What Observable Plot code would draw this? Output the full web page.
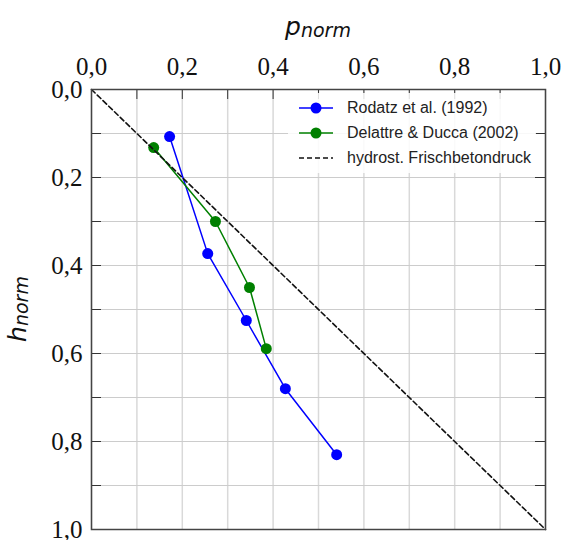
<!DOCTYPE html>
<html><head><meta charset="utf-8">
<script src="https://cdn.jsdelivr.net/npm/d3@7"></script>
<script src="https://cdn.jsdelivr.net/npm/@observablehq/plot@0.6"></script>
<style>
body{margin:0;background:#fff}
#wrap{position:relative;width:564px;height:540px;overflow:hidden}
#legend{position:absolute;left:288px;top:93px;width:248px;height:80px;background:rgba(255,255,255,0.85);font-family:"Liberation Sans",Arial,sans-serif;font-size:16px;color:#222}
.row{position:absolute;left:0;height:20px;display:flex;align-items:center;white-space:nowrap}
.row svg{margin-left:11px;margin-right:14px}
</style>
</head><body><div id="wrap"><div id="legend"></div></div>
<script>
// data
const seriesNames = ["Rodatz et al. (1992)", "Delattre & Ducca (2002)", "hydrost. Frischbetondruck"];
const seriesColors = ["#0000ff", "#008000", "#000000"];
const rodatzP = [0.172, 0.256, 0.341, 0.427, 0.540];
const rodatzH = [0.107, 0.373, 0.525, 0.680, 0.830];
const delattreP = [0.137, 0.273, 0.348, 0.385];
const delattreH = [0.132, 0.300, 0.450, 0.589];
const hydroP = [0, 1];
const hydroH = [0, 1];
const majorTicks = [0, 0.2, 0.4, 0.6, 0.8, 1.0];
const minorTicks = [0, 0.1, 0.2, 0.3, 0.4, 0.5, 0.6, 0.7, 0.8, 0.9, 1.0];

const rodatz = rodatzP.map((p, i) => ({p, h: rodatzH[i]}));
const delattre = delattreP.map((p, i) => ({p, h: delattreH[i]}));
const hydro = hydroP.map((p, i) => ({p, h: hydroH[i]}));

const W = 564, H = 540, mL = 91, mR = 19, mT = 89, mB = 11;
const fw = W - mL - mR, fh = H - mT - mB;
const fmt = d => d.toFixed(1).replace(".", ",");
const serif = "'Liberation Serif', 'Times New Roman', serif";

const chart = Plot.plot({
  width: W, height: H,
  marginLeft: mL, marginRight: mR, marginTop: mT, marginBottom: mB,
  x: {domain: [0, 1]},
  y: {domain: [0, 1], reverse: true},
  style: {background: "white", overflow: "visible"},
  marks: [
    Plot.gridX(minorTicks, {stroke: "#d9d9d9", strokeOpacity: 1, strokeWidth: 1.5}),
    Plot.gridY(minorTicks, {stroke: "#cccccc", strokeOpacity: 1, strokeWidth: 1}),
    Plot.ruleX(minorTicks, {stroke: "#333", strokeWidth: 1, insetBottom: fh - 10}),
    Plot.ruleY(minorTicks, {stroke: "#333", strokeWidth: 1, insetRight: fw - 10}),
    Plot.ruleY(minorTicks, {stroke: "#333", strokeWidth: 1, insetLeft: fw - 10}),
    Plot.line(rodatz, {x: "p", y: "h", stroke: seriesColors[0], strokeWidth: 1.5}),
    Plot.dot(rodatz, {x: "p", y: "h", r: 5.5, fill: seriesColors[0], stroke: "none"}),
    Plot.line(delattre, {x: "p", y: "h", stroke: seriesColors[1], strokeWidth: 1.5}),
    Plot.dot(delattre, {x: "p", y: "h", r: 5.5, fill: seriesColors[1], stroke: "none"}),
    Plot.line(hydro, {x: "p", y: "h", stroke: "#111", strokeWidth: 1.6, strokeDasharray: "5,3"}),
    Plot.frame({stroke: "#444", strokeWidth: 1.5}),
    Plot.axisX(majorTicks, {anchor: "top", tickSize: 0, tickPadding: 15, tickFormat: fmt, fontSize: 25, fontFamily: serif, fill: "#111", label: null}),
    Plot.axisY(majorTicks, {anchor: "left", tickSize: 0, tickPadding: 9, tickFormat: fmt, fontSize: 25, fontFamily: serif, fill: "#111", label: null})
  ]
});

document.getElementById("wrap").prepend(chart);

// axis titles with subscripts
const svg = d3.select(chart);
const sans = "'DejaVu Sans', sans-serif";
const tx = svg.append("text")
  .attr("x", mL + fw / 2).attr("y", 35)
  .attr("text-anchor", "middle")
  .attr("font-family", sans).attr("font-style", "italic").attr("fill", "#111");
tx.append("tspan").attr("font-size", 25).text("p");
tx.append("tspan").attr("font-size", 19).attr("dy", 2).text("norm");

const ty = svg.append("text")
  .attr("transform", `translate(26,${mT + fh / 2}) rotate(-90)`)
  .attr("text-anchor", "middle")
  .attr("font-family", sans).attr("font-style", "italic").attr("fill", "#111");
ty.append("tspan").attr("font-size", 25).text("h");
ty.append("tspan").attr("font-size", 19).attr("dy", 2).text("norm");

// legend
const legend = d3.select("#legend");
seriesNames.forEach((name, i) => {
  const row = legend.append("div").attr("class", "row").style("top", `${5 + i * 25}px`);
  const s = row.append("svg").attr("width", 34).attr("height", 20);
  if (i < 2) {
    s.append("line").attr("x1", 0).attr("x2", 34).attr("y1", 10).attr("y2", 10)
      .attr("stroke", seriesColors[i]).attr("stroke-width", 1.5);
    s.append("circle").attr("cx", 17).attr("cy", 10).attr("r", 5.5).attr("fill", seriesColors[i]);
  } else {
    s.append("line").attr("x1", 0).attr("x2", 34).attr("y1", 10).attr("y2", 10)
      .attr("stroke", "#111").attr("stroke-width", 1.6).attr("stroke-dasharray", "5,3");
  }
  row.append("span").text(name);
});
</script>
</body></html>
